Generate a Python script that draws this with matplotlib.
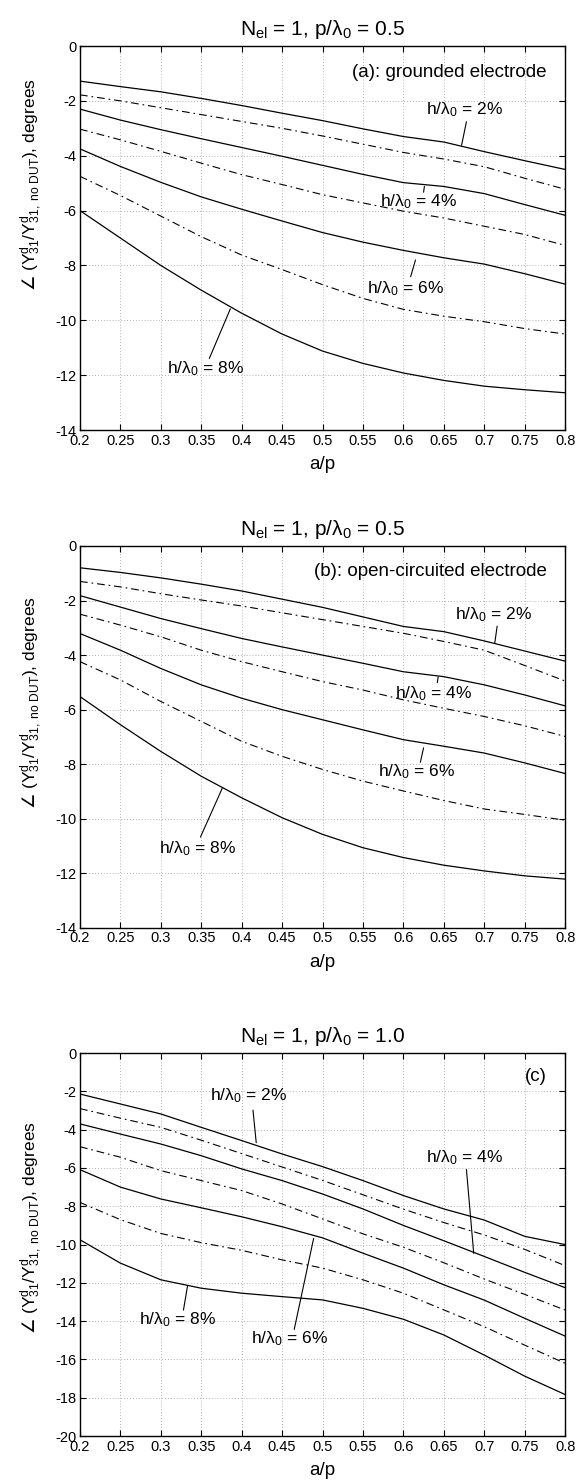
import matplotlib
matplotlib.use('Agg')
import matplotlib.pyplot as plt

plt.rcParams['font.family'] = ['Liberation Sans', 'DejaVu Sans']
plt.rcParams['mathtext.fontset'] = 'custom'
plt.rcParams['mathtext.rm'] = 'Liberation Sans'
plt.rcParams['mathtext.it'] = 'Liberation Sans:italic'
plt.rcParams['mathtext.sf'] = 'Liberation Sans'
# the angle sign is not in Liberation Sans, take it from DejaVu through \mathbf
plt.rcParams['mathtext.bf'] = 'DejaVu Sans'
plt.rcParams['axes.unicode_minus'] = False

# a/p values (x axis)
ap = [0.2, 0.25, 0.3, 0.35, 0.4, 0.45, 0.5, 0.55, 0.6, 0.65, 0.7, 0.75, 0.8]

# panel (a): grounded electrode, p/lambda0 = 0.5
a_solid = [
    [-1.28, -1.48, -1.67, -1.91, -2.17, -2.45, -2.72, -3.02, -3.30, -3.50, -3.85, -4.18, -4.50],
    [-2.30, -2.70, -3.05, -3.38, -3.70, -4.02, -4.35, -4.68, -4.98, -5.12, -5.38, -5.78, -6.17],
    [-3.75, -4.39, -4.97, -5.50, -5.95, -6.38, -6.80, -7.15, -7.45, -7.72, -7.95, -8.30, -8.68],
    [-6.00, -7.00, -8.00, -8.90, -9.74, -10.50, -11.12, -11.57, -11.92, -12.19, -12.40, -12.53, -12.64],
]
a_dashdot = [
    [-1.78, -2.00, -2.25, -2.50, -2.75, -3.00, -3.28, -3.58, -3.88, -4.12, -4.40, -4.82, -5.22],
    [-3.03, -3.42, -3.84, -4.27, -4.69, -5.05, -5.42, -5.72, -6.02, -6.27, -6.57, -6.87, -7.27],
    [-4.75, -5.45, -6.20, -6.95, -7.62, -8.15, -8.70, -9.20, -9.60, -9.85, -10.05, -10.30, -10.50],
]

# panel (b): open-circuited electrode, p/lambda0 = 0.5
b_solid = [
    [-0.80, -0.97, -1.17, -1.40, -1.65, -1.95, -2.25, -2.60, -2.95, -3.14, -3.48, -3.85, -4.22],
    [-1.82, -2.24, -2.66, -3.03, -3.39, -3.70, -4.00, -4.30, -4.61, -4.79, -5.09, -5.46, -5.86],
    [-3.21, -3.82, -4.49, -5.09, -5.58, -6.00, -6.37, -6.74, -7.10, -7.34, -7.59, -7.95, -8.34],
    [-5.52, -6.55, -7.53, -8.44, -9.23, -9.96, -10.57, -11.06, -11.42, -11.70, -11.91, -12.09, -12.21],
]
b_dashdot = [
    [-1.30, -1.50, -1.75, -1.98, -2.20, -2.45, -2.70, -2.95, -3.20, -3.50, -3.82, -4.38, -4.95],
    [-2.50, -2.90, -3.33, -3.82, -4.24, -4.61, -4.97, -5.28, -5.64, -5.95, -6.25, -6.59, -6.98],
    [-4.24, -4.91, -5.70, -6.43, -7.16, -7.71, -8.19, -8.62, -8.98, -9.33, -9.64, -9.84, -10.05],
]

# panel (c): p/lambda0 = 1.0
c_solid = [
    [-2.14, -2.66, -3.18, -3.88, -4.57, -5.27, -5.93, -6.66, -7.44, -8.14, -8.72, -9.57, -10.00],
    [-3.70, -4.23, -4.75, -5.36, -6.05, -6.66, -7.36, -8.14, -9.00, -9.80, -10.62, -11.45, -12.25],
    [-6.09, -7.00, -7.62, -8.08, -8.55, -9.07, -9.65, -10.45, -11.23, -12.10, -12.90, -13.85, -14.78],
    [-9.75, -10.97, -11.84, -12.28, -12.54, -12.72, -12.89, -13.33, -13.90, -14.72, -15.77, -16.87, -17.83],
]
c_dashdot = [
    [-2.90, -3.40, -3.88, -4.55, -5.25, -5.95, -6.65, -7.40, -8.15, -8.85, -9.50, -10.25, -11.10],
    [-4.89, -5.44, -6.14, -6.66, -7.18, -7.88, -8.66, -9.44, -10.14, -10.95, -11.80, -12.60, -13.42],
    [-7.80, -8.70, -9.42, -9.90, -10.30, -10.80, -11.23, -11.84, -12.54, -13.41, -14.29, -15.25, -16.20],
]

xticks = [0.2, 0.25, 0.3, 0.35, 0.4, 0.45, 0.5, 0.55, 0.6, 0.65, 0.7, 0.75, 0.8]
xticklabels = ['0.2', '0.25', '0.3', '0.35', '0.4', '0.45', '0.5', '0.55', '0.6', '0.65', '0.7', '0.75', '0.8']

titles = [r'N$_{\rm el}$ = 1, p/λ$_0$ = 0.5',
          r'N$_{\rm el}$ = 1, p/λ$_0$ = 0.5',
          r'N$_{\rm el}$ = 1, p/λ$_0$ = 1.0']
panel_tags = ['(a): grounded electrode', '(b): open-circuited electrode', '(c)']
tag_y = [-0.97, -0.92, -1.24]
ylabel = r'$\mathbf{\angle}$ (Y$^{\rm d}_{\rm 31}$/Y$^{\rm d}_{\rm 31,\ no\ DUT}$), degrees'
ylabel_y = [0.64, 0.59, 0.545]
h_labels = [r'h/λ$_0$ = 2%', r'h/λ$_0$ = 4%', r'h/λ$_0$ = 6%', r'h/λ$_0$ = 8%']

# label position (x, y) and leader line (x1, y1) -> (x2, y2), per panel
label_pos = [
    [(0.675, -2.33), (0.619, -5.68), (0.602, -8.83), (0.355, -11.75)],
    [(0.712, -2.53), (0.637, -5.40), (0.616, -8.26), (0.345, -11.08)],
    [(0.409, -2.23), (0.676, -5.45), (0.459, -14.90), (0.320, -13.94)],
]
leaders = [
    [((0.678, -2.76), (0.672, -3.62)), ((0.625, -5.33), (0.626, -5.12)),
     ((0.609, -8.41), (0.615, -7.80)), ((0.360, -11.39), (0.386, -9.58))],
    [((0.716, -2.94), (0.713, -3.57)), ((0.642, -5.01), (0.643, -4.80)),
     ((0.621, -7.93), (0.625, -7.40)), ((0.349, -10.67), (0.376, -8.88))],
    [((0.414, -2.98), (0.418, -4.68)), ((0.678, -6.08), (0.687, -10.46)),
     ((0.465, -14.43), (0.489, -9.68)), ((0.328, -13.42), (0.333, -12.17))],
]
ylims = [(-14, 0), (-14, 0), (-20, 0)]

solids = [a_solid, b_solid, c_solid]
dashdots = [a_dashdot, b_dashdot, c_dashdot]

# axes boxes in figure fractions (left, bottom, width, height)
boxes = [(0.136, 0.7102, 0.825, 0.2588),
         (0.136, 0.3747, 0.825, 0.2574),
         (0.136, 0.0323, 0.825, 0.2581)]

fig = plt.figure(figsize=(5.88, 14.84), dpi=100)

for i in range(3):
    ax = fig.add_axes(boxes[i])
    for s in solids[i]:
        ax.plot(ap, s, color='black', lw=0.9)
    for d in dashdots[i]:
        ax.plot(ap, d, color='black', lw=0.8, linestyle=(0, (7, 3.5, 1.5, 3.5)))

    ax.set_xlim(0.2, 0.8)
    ax.set_ylim(*ylims[i])
    ax.set_xticks(xticks)
    ax.set_xticklabels(xticklabels)
    ax.set_yticks(range(ylims[i][0], 1, 2))
    ax.tick_params(direction='in', top=True, right=True, length=4, width=0.8,
                   labelsize=10.5, pad=2.5)
    ax.grid(True, color='#9a9a9a', linestyle=(0, (1, 2.5)), lw=0.6)
    for sp in ax.spines.values():
        sp.set_linewidth(1.0)

    ax.set_title(titles[i], fontsize=15, pad=8)
    ax.set_xlabel('a/p', fontsize=13.5, labelpad=6)
    ax.set_ylabel(ylabel, fontsize=12.5)
    ax.yaxis.set_label_coords(-0.075, ylabel_y[i])

    ax.text(0.777, tag_y[i], panel_tags[i], ha='right', va='center', fontsize=13.5)

    for k in range(4):
        lx, ly = label_pos[i][k]
        ax.text(lx, ly, h_labels[k], ha='center', va='center', fontsize=12.5)
        (x1, y1), (x2, y2) = leaders[i][k]
        ax.annotate('', xy=(x2, y2), xytext=(x1, y1),
                    arrowprops=dict(arrowstyle='-', color='black', lw=0.8,
                                    shrinkA=0, shrinkB=0))

fig.savefig('out.png', dpi=100)
